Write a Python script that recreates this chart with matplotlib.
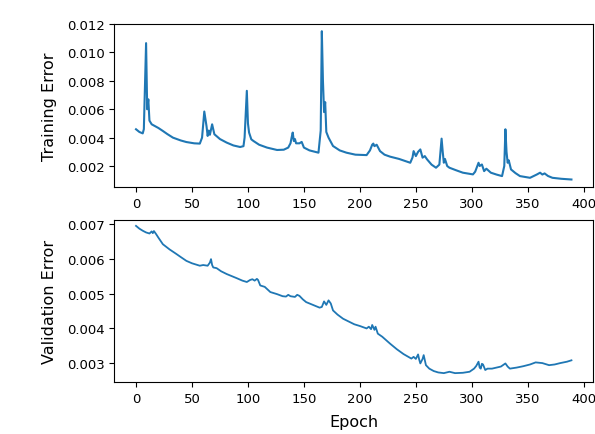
import matplotlib

matplotlib.use("Agg")
import matplotlib.pyplot as plt

# values
train_epoch = [0, 3, 6, 7, 9, 10, 11, 12, 14, 20, 24, 28, 33, 40, 45, 52, 57, 59, 61, 63,
               64, 65, 66, 68, 70, 75, 81, 87, 93, 96, 97, 99, 100, 101, 103, 105, 110, 117,
               126, 132, 136, 138, 139, 140, 141, 142, 143, 146, 148, 150, 155, 160, 163,
               165, 166, 167, 168, 169, 170, 172, 176, 182, 188, 196, 206, 209, 211, 212,
               213, 215, 218, 222, 227, 235, 245, 247, 248, 250, 252, 254, 256, 258, 260,
               264, 268, 271, 273, 274, 275, 276, 278, 280, 286, 292, 301, 303, 306, 307,
               309, 311, 313, 317, 322, 327, 329, 330, 331, 332, 333, 335, 339, 343, 352,
               358, 361, 363, 365, 368, 372, 380, 389]
train_err = [0.00459, 0.00440, 0.00430, 0.00460, 0.01066, 0.00600, 0.00670, 0.00520,
             0.00494, 0.00468, 0.00447, 0.00425, 0.00400, 0.00380, 0.00369, 0.00360,
             0.00358, 0.00400, 0.00584, 0.00480, 0.00412, 0.00450, 0.00420, 0.00494,
             0.00424, 0.00390, 0.00365, 0.00345, 0.00334, 0.00340, 0.00400, 0.00730,
             0.00500, 0.00436, 0.00388, 0.00376, 0.00350, 0.00330, 0.00313, 0.00315,
             0.00330, 0.00360, 0.00400, 0.00436, 0.00376, 0.00390, 0.00360, 0.00360,
             0.00370, 0.00330, 0.00310, 0.00300, 0.00294, 0.00450, 0.01150, 0.00800,
             0.00580, 0.00650, 0.00440, 0.00400, 0.00341, 0.00310, 0.00294, 0.00280,
             0.00277, 0.00310, 0.00350, 0.00358, 0.00340, 0.00350, 0.00305, 0.00280,
             0.00266, 0.00250, 0.00223, 0.00260, 0.00305, 0.00270, 0.00300, 0.00317,
             0.00259, 0.00270, 0.00247, 0.00210, 0.00188, 0.00210, 0.00393, 0.00300,
             0.00223, 0.00250, 0.00200, 0.00188, 0.00170, 0.00153, 0.00141, 0.00160,
             0.00223, 0.00200, 0.00211, 0.00164, 0.00181, 0.00153, 0.00140, 0.00129,
             0.00200, 0.00459, 0.00300, 0.00223, 0.00240, 0.00176, 0.00150, 0.00129,
             0.00117, 0.00140, 0.00153, 0.00140, 0.00148, 0.00130, 0.00117, 0.00110,
             0.00105]

val_epoch = [0, 3, 6, 9, 12, 14, 15, 16, 18, 20, 24, 30, 36, 40, 45, 50, 57, 60, 64, 66,
             67, 68, 69, 72, 76, 81, 84, 90, 95, 99, 102, 104, 106, 108, 109, 111, 115,
             120, 126, 131, 134, 136, 138, 142, 144, 146, 149, 152, 158, 164, 166, 168,
             170, 172, 174, 176, 180, 185, 190, 195, 200, 206, 208, 210, 211, 213, 214,
             216, 220, 227, 233, 239, 246, 248, 250, 252, 253, 254, 256, 257, 259, 262,
             266, 270, 275, 280, 285, 292, 298, 302, 304, 306, 307, 308, 309, 310, 312,
             314, 318, 322, 326, 330, 332, 334, 340, 346, 352, 357, 363, 369, 374, 379,
             385, 389]
val_err = [0.00696, 0.00688, 0.00682, 0.00677, 0.00674, 0.00680, 0.00675, 0.00681,
           0.00672, 0.00662, 0.00643, 0.00628, 0.00615, 0.00606, 0.00595, 0.00588,
           0.00581, 0.00583, 0.00581, 0.00590, 0.00600, 0.00583, 0.00576, 0.00574,
           0.00565, 0.00557, 0.00553, 0.00545, 0.00538, 0.00534, 0.00540, 0.00542,
           0.00538, 0.00543, 0.00540, 0.00524, 0.00520, 0.00505, 0.00499, 0.00493,
           0.00492, 0.00497, 0.00493, 0.00491, 0.00497, 0.00494, 0.00484, 0.00476,
           0.00468, 0.00460, 0.00462, 0.00478, 0.00468, 0.00481, 0.00472, 0.00452,
           0.00440, 0.00428, 0.00420, 0.00412, 0.00407, 0.00400, 0.00405, 0.00398,
           0.00410, 0.00396, 0.00405, 0.00385, 0.00376, 0.00356, 0.00340, 0.00326,
           0.00313, 0.00318, 0.00312, 0.00325, 0.00310, 0.00299, 0.00312, 0.00323,
           0.00294, 0.00284, 0.00277, 0.00273, 0.00271, 0.00275, 0.00271, 0.00272,
           0.00275, 0.00284, 0.00292, 0.00304, 0.00287, 0.00284, 0.00298, 0.00296,
           0.00280, 0.00284, 0.00284, 0.00287, 0.00290, 0.00299, 0.00290, 0.00284,
           0.00287, 0.00291, 0.00296, 0.00302, 0.00300, 0.00294, 0.00296, 0.00300,
           0.00304, 0.00308]


def main():
    fig = plt.figure(figsize=(5.95, 4.35), dpi=100)
    ax_train = fig.add_axes([0.192, 0.568, 0.805, 0.375])
    ax_val = fig.add_axes([0.192, 0.12, 0.805, 0.372])

    ax_train.plot(train_epoch, train_err, color="#1f77b4", linewidth=1.5)
    ax_train.set_ylabel("Training Error", fontsize=11.5, labelpad=7)
    ax_train.set_yticks([0.002, 0.004, 0.006, 0.008, 0.010, 0.012])

    ax_val.plot(val_epoch, val_err, color="#1f77b4", linewidth=1.3)
    ax_val.set_ylabel("Validation Error", fontsize=11.5, labelpad=7)
    ax_val.set_xlabel("Epoch", fontsize=11.5, labelpad=7)
    ax_val.set_ylim(0.00246, 0.00713)

    for ax in (ax_train, ax_val):
        ax.set_xticks([0, 50, 100, 150, 200, 250, 300, 350, 400])
        ax.tick_params(labelsize=9.5)
    fig.align_ylabels([ax_train, ax_val])

    fig.savefig("out.png", dpi=100)
    plt.close(fig)


if __name__ == "__main__":
    main()
